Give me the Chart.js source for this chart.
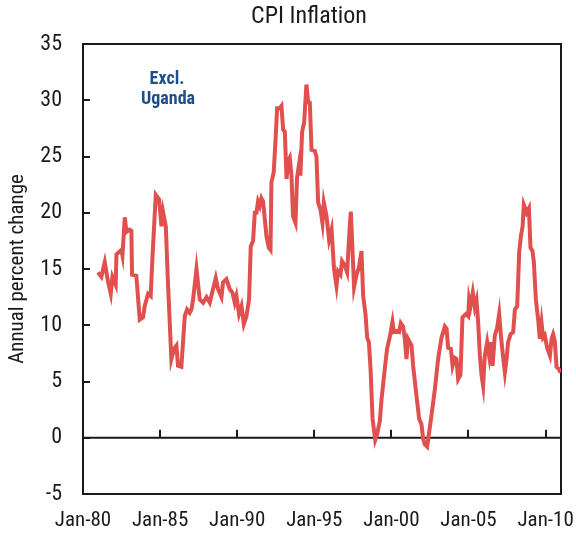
<!DOCTYPE html>
<html>
<head>
<meta charset="utf-8">
<title>CPI Inflation</title>
<script src="https://cdn.jsdelivr.net/npm/chart.js@4/dist/chart.umd.min.js"></script>
<style>
  html, body { margin: 0; padding: 0; background: #fff; }
  canvas { display: block; }
</style>
</head>
<body>
<canvas id="cpi" width="576" height="537"></canvas>
<script>
// Monthly CPI inflation, annual percent change (x = decimal year)
const years = [
    1980.97, 1981.19, 1981.41, 1981.62, 1981.80, 1981.91, 1982.12, 1982.17, 1982.49, 1982.56,
    1982.71, 1982.82, 1983.03, 1983.14, 1983.18, 1983.46, 1983.68, 1983.89, 1984.00, 1984.22,
    1984.39, 1984.50, 1984.72, 1984.93, 1985.09, 1985.19, 1985.37, 1985.51, 1985.73, 1985.90,
    1986.06, 1986.16, 1986.38, 1986.60, 1986.75, 1986.92, 1987.03, 1987.14, 1987.36, 1987.57,
    1987.79, 1988.01, 1988.22, 1988.43, 1988.61, 1988.76, 1988.98, 1989.08, 1989.30, 1989.52,
    1989.69, 1989.84, 1989.95, 1990.12, 1990.28, 1990.43, 1990.60, 1990.77, 1990.88, 1991.03,
    1991.14, 1991.25, 1991.35, 1991.46, 1991.57, 1991.68, 1991.90, 1992.05, 1992.16, 1992.22,
    1992.37, 1992.50, 1992.59, 1992.76, 1992.87, 1992.98, 1993.09, 1993.20, 1993.30, 1993.41,
    1993.52, 1993.62, 1993.78, 1993.88, 1994.01, 1994.10, 1994.21, 1994.34, 1994.49, 1994.60,
    1994.71, 1994.82, 1995.03, 1995.14, 1995.25, 1995.40, 1995.53, 1995.62, 1995.79, 1995.96,
    1996.12, 1996.28, 1996.44, 1996.54, 1996.70, 1996.80, 1996.98, 1997.13, 1997.30, 1997.37,
    1997.45, 1997.58, 1997.74, 1997.89, 1998.06, 1998.17, 1998.32, 1998.43, 1998.54, 1998.65,
    1998.78, 1998.95, 1999.07, 1999.25, 1999.36, 1999.57, 1999.72, 1999.90, 2000.07, 2000.16,
    2000.33, 2000.50, 2000.61, 2000.76, 2000.87, 2000.98, 2001.08, 2001.31, 2001.41, 2001.63,
    2001.80, 2001.95, 2002.06, 2002.17, 2002.32, 2002.45, 2002.60, 2002.82, 2003.03, 2003.25,
    2003.47, 2003.58, 2003.68, 2003.86, 2003.97, 2004.11, 2004.22, 2004.33, 2004.48, 2004.61,
    2004.83, 2004.98, 2005.04, 2005.13, 2005.28, 2005.41, 2005.52, 2005.63, 2005.74, 2005.85,
    2005.95, 2006.06, 2006.21, 2006.34, 2006.43, 2006.56, 2006.71, 2006.86, 2006.99, 2007.08,
    2007.21, 2007.36, 2007.47, 2007.57, 2007.73, 2007.90, 2008.01, 2008.16, 2008.29, 2008.40,
    2008.51, 2008.59, 2008.70, 2008.77, 2008.92, 2009.02, 2009.15, 2009.24, 2009.37, 2009.52,
    2009.63, 2009.74, 2009.84, 2009.95, 2010.10, 2010.28, 2010.39, 2010.49, 2010.60, 2010.71,
    2010.86, 2010.97
];

const cpi = [
    14.7, 14.3, 15.6, 13.9, 12.8, 14.3, 13.6, 16.3, 16.7, 16.2,
    19.6, 18.3, 18.5, 18.4, 14.5, 14.4, 10.5, 10.7, 11.7, 12.8,
    12.6, 15.9, 21.6, 21.2, 18.8, 20.1, 18.8, 13.8, 7.0, 7.9,
    8.2, 6.4, 6.3, 10.8, 11.4, 11.1, 11.4, 12.3, 15.0, 12.3,
    12.0, 12.5, 12.0, 13.2, 14.2, 13.2, 12.5, 13.8, 14.1, 13.2,
    12.9, 12.0, 12.6, 11.0, 11.7, 10.1, 10.8, 12.3, 17.0, 17.5,
    20.0, 20.0, 21.0, 20.6, 21.3, 21.0, 17.9, 16.9, 16.7, 22.7,
    23.6, 26.8, 29.3, 29.3, 29.5, 27.4, 27.2, 23.0, 24.6, 24.9,
    23.3, 19.7, 19.1, 23.1, 24.3, 23.3, 27.2, 28.0, 31.4, 29.9,
    29.8, 25.6, 25.5, 25.0, 20.9, 20.3, 19.1, 20.9, 19.7, 17.6,
    18.5, 15.0, 13.5, 14.8, 14.5, 15.7, 15.3, 14.7, 18.8, 20.1,
    17.6, 13.4, 14.5, 15.1, 16.6, 12.6, 11.0, 8.9, 8.5, 6.1,
    1.7, -0.2, 0.3, 1.5, 3.4, 6.1, 7.9, 9.0, 10.3, 9.4,
    9.5, 9.4, 10.2, 9.9, 8.8, 7.0, 8.8, 8.2, 6.4, 3.7,
    1.7, 1.2, -0.1, -0.6, -0.8, 0.5, 2.0, 4.3, 7.0, 8.9,
    9.9, 9.7, 8.0, 7.9, 6.4, 7.1, 7.0, 5.2, 5.6, 10.7,
    11.0, 10.8, 12.3, 11.7, 12.9, 11.6, 12.2, 10.2, 7.3, 5.5,
    4.6, 7.3, 8.5, 7.3, 8.5, 6.4, 9.1, 9.8, 11.0, 9.4,
    7.6, 5.8, 7.0, 8.5, 9.2, 9.4, 11.4, 11.7, 16.5, 17.9,
    18.8, 20.7, 20.3, 20.0, 20.4, 16.9, 16.6, 15.6, 12.3, 10.5,
    8.8, 10.2, 8.9, 9.1, 8.0, 7.3, 8.8, 9.2, 8.6, 6.3,
    6.1, 5.8
];

const xTicks = [1980, 1985, 1990, 1995, 2000, 2005, 2010];
const yTicks = [-5, 0, 5, 10, 15, 20, 25, 30, 35];

const FONT = "'Liberation Sans Narrow', 'Arial Narrow', 'Roboto Condensed', 'Noto Sans Condensed', 'DejaVu Sans Condensed', sans-serif";
const INK = '#1a1a1a';

// Box around the plot, zero line and the inward tick marks
const framePlugin = {
    id: 'frame',
    beforeDatasetsDraw(chart) {
        const { ctx, chartArea: a, scales: { x, y } } = chart;
        const y0 = y.getPixelForValue(0);
        ctx.save();
        ctx.strokeStyle = INK;
        ctx.lineWidth = 2;
        ctx.strokeRect(a.left, a.top, a.right - a.left, a.bottom - a.top);

        ctx.beginPath();
        ctx.moveTo(a.left, y0);
        ctx.lineTo(a.right, y0);
        yTicks.forEach(v => {
            const py = Math.round(y.getPixelForValue(v));
            ctx.moveTo(a.left, py);
            ctx.lineTo(a.left + 7, py);
        });
        xTicks.slice(1).forEach(v => {
            const px = Math.round(x.getPixelForValue(v));
            ctx.moveTo(px, y0);
            ctx.lineTo(px, y0 - 8);
        });
        ctx.stroke();
        ctx.restore();
    },
    afterDraw(chart) {
        const { ctx } = chart;
        ctx.save();
        ctx.textAlign = 'center';
        ctx.textBaseline = 'middle';
        ctx.fillStyle = INK;
        ctx.font = '24px ' + FONT;
        ctx.fillText('CPI Inflation', 309, 17);

        ctx.fillStyle = '#1f4e85';
        ctx.font = 'bold 18px ' + FONT;
        ctx.fillText('Excl.', 167, 79);
        ctx.fillText('Uganda', 168, 99);
        ctx.restore();
    }
};

new Chart(document.getElementById('cpi'), {
    type: 'line',
    data: {
        labels: years,
        datasets: [{
            data: years.map((yr, i) => ({ x: yr, y: cpi[i] })),
            borderColor: '#e0504e',
            borderWidth: 4,
            pointRadius: 0,
            tension: 0,
            fill: false
        }]
    },
    options: {
        responsive: false,
        animation: false,
        layout: { padding: { top: 44, right: 15, left: 0, bottom: 0 } },
        plugins: {
            legend: { display: false },
            tooltip: { enabled: false }
        },
        scales: {
            x: {
                type: 'linear',
                min: 1980,
                max: 2011,
                grid: { display: false, drawTicks: false },
                border: { display: false },
                afterBuildTicks: scale => {
                    scale.ticks = xTicks.map(v => ({ value: v }));
                },
                afterFit: scale => {
                    scale.height = 43;
                    scale.paddingLeft = 0;
                    scale.paddingRight = 0;
                },
                ticks: {
                    autoSkip: false,
                    maxRotation: 0,
                    padding: 14,
                    color: INK,
                    font: { family: FONT, size: 21 },
                    callback: v => 'Jan-' + String(v % 100).padStart(2, '0')
                }
            },
            y: {
                min: -5,
                max: 35,
                grid: { display: false, drawTicks: false },
                border: { display: false },
                afterBuildTicks: scale => {
                    scale.ticks = yTicks.map(v => ({ value: v }));
                },
                afterFit: scale => {
                    scale.width = 83;
                    scale.paddingTop = 0;
                    scale.paddingBottom = 0;
                },
                ticks: {
                    padding: 21,
                    color: INK,
                    font: { family: FONT, size: 22 }
                },
                title: {
                    display: true,
                    text: 'Annual percent change',
                    color: INK,
                    padding: { top: 5, bottom: 0 },
                    font: { family: FONT, size: 21 }
                }
            }
        }
    },
    plugins: [framePlugin]
});
</script>
</body>
</html>
